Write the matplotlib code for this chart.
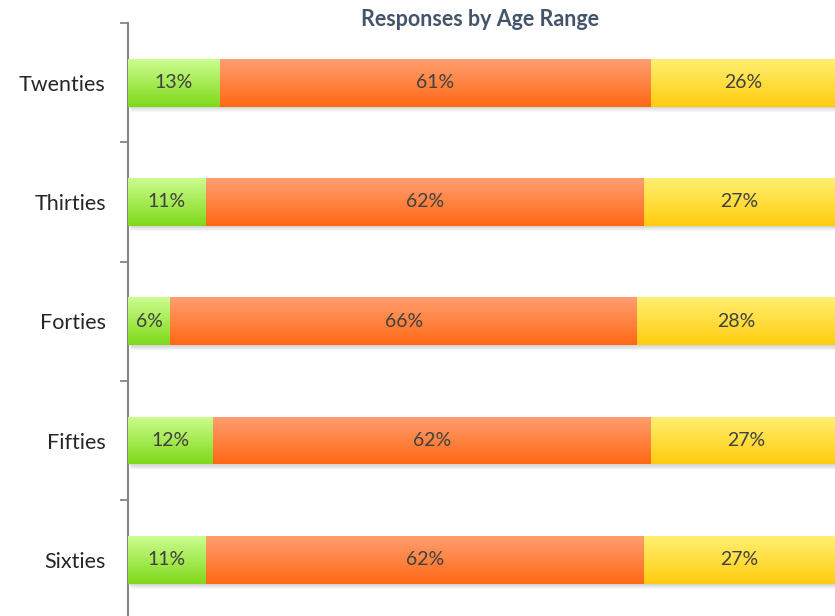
import numpy as np
import matplotlib.pyplot as plt
import matplotlib.transforms as mtransforms
from matplotlib.colors import LinearSegmentedColormap

ages = ["Twenties", "Thirties", "Forties", "Fifties", "Sixties"]
low = [13, 11, 6, 12, 11]
mid = [61, 62, 66, 62, 62]
high = [26, 27, 28, 27, 27]

# top -> bottom colour of each segment's gradient
grads = [
    ((0.80, 0.99, 0.56), (0.50, 0.85, 0.10)),
    ((1.00, 0.62, 0.44), (1.00, 0.41, 0.08)),
    ((1.00, 0.94, 0.44), (1.00, 0.80, 0.06)),
]

FONT = "Lato"

fig = plt.figure(figsize=(8.35, 6.16), dpi=100)
ax = fig.add_axes([128/835, 1 - 619.5/616, 1 - 128/835, (619.5 - 23)/616])

y = np.arange(len(ages))
h = 0.40
ramp = np.linspace(0, 1, 64).reshape(-1, 1)

left = np.zeros(len(ages))
for vals, (top, bot) in zip([low, mid, high], grads):
    w = np.array(vals) / 100.0
    cmap = LinearSegmentedColormap.from_list("g", [top, bot])
    bars = ax.barh(y, w, left=left, height=h, color="none", edgecolor="none", zorder=3)
    for b in bars:
        x0, y0 = b.get_x(), b.get_y()
        bw, bh = b.get_width(), b.get_height()
        im = ax.imshow(ramp, cmap=cmap, aspect="auto", interpolation="bicubic",
                       extent=[x0, x0 + bw, y0 + bh, y0], zorder=3)
        im.set_clip_path(b)
    for yi, l, wi, v in zip(y, left, w, vals):
        ax.text(l + wi / 2, yi, f"{v}%", ha="center", va="center",
                fontsize=14, color="#404040", family=FONT, zorder=5)
    left = left + w

# soft shadow under each full bar
for i in range(6):
    tr = mtransforms.offset_copy(ax.transData, fig=fig, x=1 + i * 0.4, y=-(1 + i * 0.8), units="dots")
    for yi in y:
        ax.add_patch(plt.Rectangle((0, yi - h / 2), 1.0, h, transform=tr,
                                   color="#707070", alpha=0.05, lw=0, zorder=2))

ax.set_xlim(0, 1)
ax.set_ylim(len(ages) - 0.5, -0.5)
ax.set_yticks(y)
ax.set_yticklabels(ages, fontsize=15.5, family=FONT, color="#262626")
ax.set_yticks(np.arange(-0.5, len(ages)), minor=True)
ax.tick_params(axis="y", which="major", length=0, pad=16)
ax.tick_params(axis="y", which="minor", length=6, width=1.3, color="#868686")
ax.set_xticks([])
for s in ["top", "right", "bottom"]:
    ax.spines[s].set_visible(False)
ax.spines["left"].set_color("#868686")
ax.spines["left"].set_linewidth(1.5)

fig.text(480/835, 1 - 19/616, "Responses by Age Range", ha="center", va="center",
         fontsize=15.5, fontweight="bold", color="#44546a", family=FONT)

fig.savefig("out.png", dpi=100)
